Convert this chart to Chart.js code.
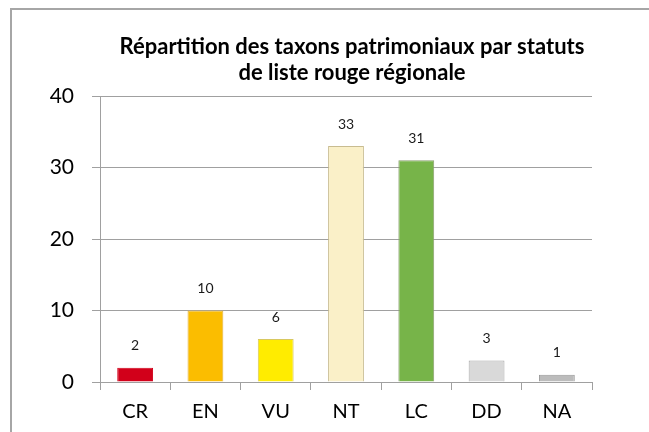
<!DOCTYPE html>
<html>
<head>
<meta charset="utf-8">
<script src="https://cdn.jsdelivr.net/npm/chart.js@4"></script>
<style>
  html, body { margin: 0; padding: 0; background: #fff; }
  #wrap { width: 649px; height: 432px; position: relative; }
</style>
</head>
<body>
<div id="wrap"><canvas id="c" width="649" height="432"></canvas></div>
<script>
const categories = ["CR", "EN", "VU", "NT", "LC", "DD", "NA"];
const values = [2, 10, 6, 33, 31, 3, 1];
const yTicks = [0, 10, 20, 30, 40];
const titleLines = ["Répartition des taxons patrimoniaux par statuts", "de liste rouge régionale"];

const barColors = ["#d2001a", "#fbbd00", "#ffec00", "#faf0c8", "#77b449", "#d9d9d9", "#bcbcbc"];
const barBorders = ["#d2001a", "#e0b040", "#d8c860", "#c8bc90", "#8aa070", "#a8a8a8", "#989898"];

const FONT = "Lato, 'Open Sans', sans-serif";

const decor = {
  id: "decor",
  beforeDraw(chart) {
    const ctx = chart.ctx;
    ctx.save();
    ctx.fillStyle = "#fff";
    ctx.fillRect(0, 0, chart.width, chart.height);
    ctx.strokeStyle = "#a6a6a6";
    ctx.lineWidth = 2;
    ctx.beginPath();
    ctx.moveTo(11, 440);
    ctx.lineTo(11, 9);
    ctx.lineTo(660, 9);
    ctx.stroke();
    ctx.restore();
  },
  afterDraw(chart) {
    const ctx = chart.ctx;
    ctx.save();
    ctx.fillStyle = "#000";
    ctx.font = "bold 22px " + FONT;
    ctx.textAlign = "center";
    ctx.textBaseline = "middle";
    ctx.fillText(titleLines[0], 352, 47);
    ctx.fillText(titleLines[1], 352, 73);
    const meta = chart.getDatasetMeta(0);
    ctx.font = "14px " + FONT;
    ctx.fillStyle = "#1a1a1a";
    meta.data.forEach((bar, i) => {
      ctx.fillText(String(values[i]), bar.x, bar.y - 22);
    });
    ctx.restore();
  }
};

new Chart(document.getElementById("c"), {
  type: "bar",
  data: {
    labels: categories,
    datasets: [{
      data: values,
      backgroundColor: barColors,
      borderColor: barBorders,
      borderWidth: 1,
      categoryPercentage: 1,
      barPercentage: 0.51
    }]
  },
  options: {
    responsive: false,
    animation: false,
    devicePixelRatio: 1,
    layout: { padding: { top: 96, right: 57, left: 0, bottom: 0 } },
    plugins: { legend: { display: false }, title: { display: false }, tooltip: { enabled: false } },
    scales: {
      x: {
        offset: true,
        grid: { offset: true, drawOnChartArea: false, color: "#a0a0a0", tickLength: 8, lineWidth: 1 },
        border: { color: "#a0a0a0", width: 1 },
        ticks: { color: "#000", font: { family: FONT, size: 20 }, padding: 10 },
        afterFit(scale) { scale.height = 50; }
      },
      y: {
        min: 0, max: 40,
        afterBuildTicks(scale) { scale.ticks = yTicks.map(v => ({ value: v })); },
        grid: { color: "#a0a0a0", tickLength: 8, lineWidth: 1 },
        border: { color: "#a0a0a0", width: 1 },
        ticks: { color: "#000", font: { family: FONT, size: 21 }, padding: 18 },
        afterFit(scale) { scale.width = 100; }
      }
    }
  },
  plugins: [decor]
});
</script>
</body>
</html>
